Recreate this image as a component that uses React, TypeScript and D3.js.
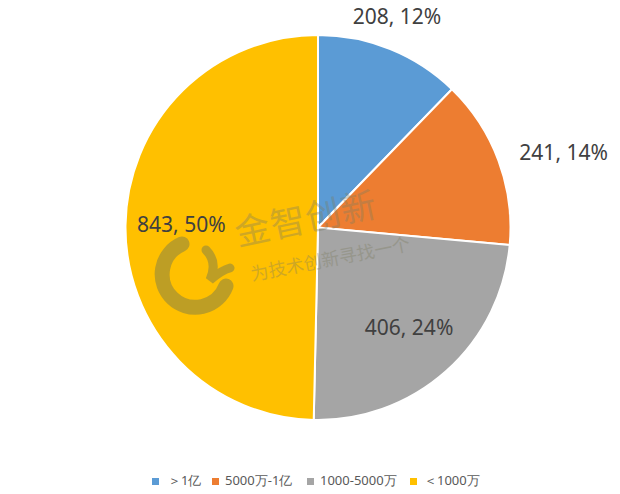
import React from "react";
import * as d3 from "d3";

const categories = ["＞1亿", "5000万-1亿", "1000-5000万", "＜1000万"];
const values = [208, 241, 406, 843];
const colors = ["#5B9BD5", "#ED7D31", "#A5A5A5", "#FFC000"];

const W = 620;
const H = 494;
const cx = 318;
const cy = 227.5;
const R = 192.5;
const FONT = "'Noto Sans', 'Open Sans', sans-serif";

export default function App() {
  const total = d3.sum(values);
  const pie = d3.pie<number>().sort(null).value((d) => d);
  const arcs = pie(values);
  const arcGen = d3.arc<d3.PieArcDatum<number>>().innerRadius(0).outerRadius(R);
  const pct = (v: number) => `${Math.round((v / total) * 100)}%`;

  const labels = arcs.map((a, i) => {
    const mid = (a.startAngle + a.endAngle) / 2;
    const frac = (a.endAngle - a.startAngle) / (2 * Math.PI);
    const text = `${values[i]}, ${pct(values[i])}`;
    if (frac < 0.2) {
      const rr = R + 18;
      const x = cx + rr * Math.sin(mid);
      const y = cy - rr * Math.cos(mid);
      if (Math.abs(Math.sin(mid)) < 0.5) {
        return { x, y: y - 8, anchor: "middle", base: "auto", text };
      }
      return { x: x + 4, y, anchor: "start", base: "middle", text };
    }
    const rr = R * 0.71;
    return {
      x: cx + rr * Math.sin(mid),
      y: cy - rr * Math.cos(mid),
      anchor: "middle",
      base: "middle",
      text,
    };
  });

  const legendItems = [
    { sq: 152, tx: 168 },
    { sq: 212, tx: 225 },
    { sq: 307, tx: 320 },
    { sq: 410, tx: 424 },
  ];

  return (
    <svg
      width={W}
      height={H}
      style={{ position: "absolute", left: 0, top: 0, background: "#fff" }}
    >
      <rect x={0} y={0} width={W} height={H} fill="#fff" />
      <g>
        {arcs.map((a, i) => (
          <path
            key={i}
            d={arcGen(a) || ""}
            transform={`translate(${cx},${cy})`}
            fill={colors[i]}
            stroke="#fff"
            strokeWidth={2}
          />
        ))}
      </g>
      {labels.map((l, i) => (
        <text
          key={i}
          x={l.x}
          y={l.y}
          textAnchor={l.anchor as any}
          dominantBaseline={l.base as any}
          fontFamily={FONT}
          fontSize={21}
          fill="#404040"
        >
          {l.text}
        </text>
      ))}
      {/* watermark */}
      <g opacity={0.36} fill="#7d7d62">
        <text
          x={238}
          y={246}
          transform="rotate(-12 238 246)"
          fontFamily="'Noto Sans CJK SC', sans-serif"
          fontSize={35}
          letterSpacing={1}
        >
          金智创新
        </text>
        <text
          x={252}
          y={281}
          transform="rotate(-11 252 281)"
          fontFamily="'Noto Sans CJK SC', sans-serif"
          fontSize={18}
        >
          为技术创新寻找一个
        </text>
      </g>
      <g opacity={0.5} fill="none" stroke="#7d7d4a" strokeLinecap="round">
        <path d="M 182 244 A 33 33 0 1 0 226 286" strokeWidth={15} />
        <path d="M 206 250 Q 218 262 210 280 Q 222 270 230 268" strokeWidth={9} />
      </g>
      {categories.map((c, i) => (
        <g key={c}>
          <rect x={legendItems[i].sq} y={478} width={7} height={7} fill={colors[i]} />
          <text
            x={legendItems[i].tx}
            y={482}
            dominantBaseline="middle"
            fontFamily={FONT}
            fontSize={13}
            fill="#595959"
          >
            {c}
          </text>
        </g>
      ))}
    </svg>
  );
}
